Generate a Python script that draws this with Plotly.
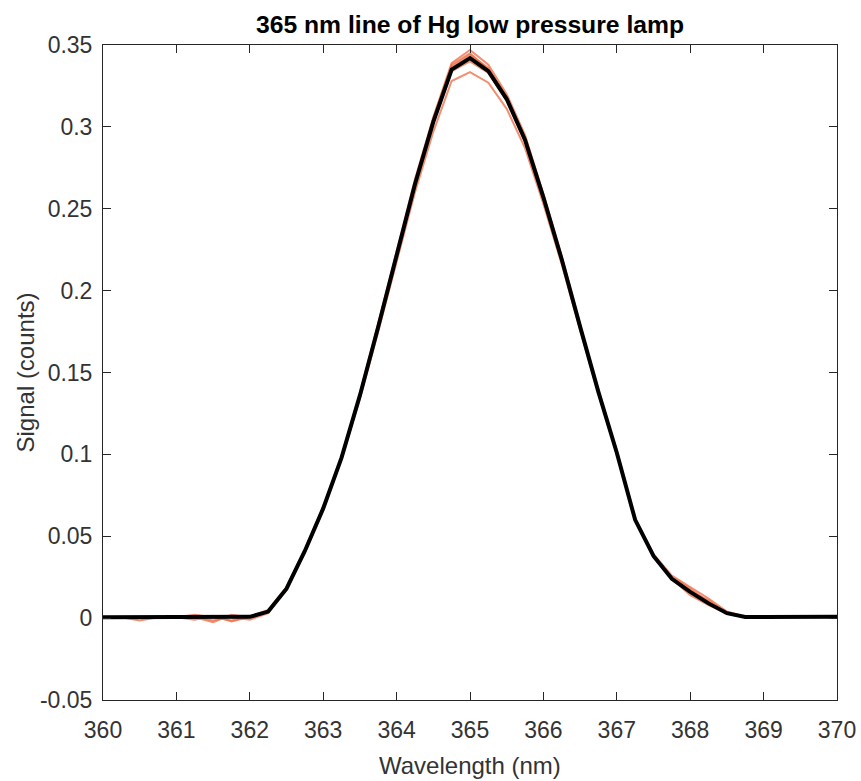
import plotly.graph_objects as go

wavelength = [360.0, 360.25, 360.5, 360.75, 361.0, 361.25, 361.5, 361.75, 362.0, 362.25,
              362.5, 362.75, 363.0, 363.25, 363.5, 363.75, 364.0, 364.25, 364.5, 364.75,
              365.0, 365.25, 365.5, 365.75, 366.0, 366.25, 366.5, 366.75, 367.0, 367.25,
              367.5, 367.75, 368.0, 368.25, 368.5, 368.75, 369.0, 369.25, 369.5, 369.75, 370.0]

mean_signal = [0.0005, 0.0005, 0.0005, 0.0005, 0.0005, 0.0005, 0.0005, 0.0005, 0.0008, 0.004,
               0.018, 0.041, 0.067, 0.098, 0.136, 0.178, 0.221, 0.265, 0.303, 0.335,
               0.342, 0.334, 0.317, 0.292, 0.257, 0.219, 0.178, 0.138, 0.101, 0.060,
               0.038, 0.024, 0.016, 0.009, 0.003, 0.0007, 0.0007, 0.0007, 0.0008, 0.0008, 0.0008]

scan_a = [0.0005, 0.0005, 0.0005, 0.0005, 0.0005, -0.001, 0.0015, -0.002, 0.0006, 0.004,
          0.018, 0.040, 0.066, 0.097, 0.134, 0.175, 0.217, 0.260, 0.297, 0.328,
          0.3335, 0.327, 0.311, 0.287, 0.253, 0.216, 0.176, 0.137, 0.100, 0.060,
          0.038, 0.024, 0.016, 0.009, 0.003, 0.0007, 0.0007, 0.0007, 0.0008, 0.0008, 0.0008]

scan_b = [0.0005, 0.0005, 0.0005, 0.0005, 0.0005, 0.001, -0.0015, 0.0012, 0.001, 0.005,
          0.019, 0.042, 0.068, 0.099, 0.137, 0.180, 0.224, 0.268, 0.306, 0.339,
          0.347, 0.338, 0.320, 0.295, 0.259, 0.221, 0.179, 0.139, 0.102, 0.061,
          0.039, 0.026, 0.019, 0.012, 0.004, 0.0007, 0.0007, 0.0007, 0.0008, 0.0008, 0.0008]

scan_c = [0.0005, 0.0005, 0.0005, 0.0005, 0.0005, 0.0005, -0.0025, 0.002, 0.0005, 0.004,
          0.017, 0.041, 0.067, 0.098, 0.136, 0.178, 0.221, 0.266, 0.305, 0.337,
          0.344, 0.336, 0.318, 0.293, 0.258, 0.220, 0.178, 0.138, 0.101, 0.060,
          0.038, 0.025, 0.018, 0.010, 0.003, 0.0007, 0.0007, 0.0007, 0.0008, 0.0008, 0.0008]

scan_d = [0.0005, 0.0005, 0.0005, 0.0005, 0.0005, 0.002, 0.0005, -0.0015, 0.001, 0.004,
          0.018, 0.041, 0.067, 0.098, 0.136, 0.178, 0.221, 0.264, 0.302, 0.334,
          0.340, 0.333, 0.316, 0.291, 0.256, 0.218, 0.178, 0.138, 0.101, 0.060,
          0.037, 0.024, 0.016, 0.011, 0.003, 0.0007, 0.0007, 0.0007, 0.0008, 0.0008, 0.0008]

scan_e = [0.0005, 0.0005, -0.0015, 0.0005, 0.0005, 0.0005, 0.001, 0.0005, -0.001, 0.003,
          0.018, 0.041, 0.067, 0.098, 0.136, 0.178, 0.222, 0.266, 0.305, 0.338,
          0.345, 0.335, 0.318, 0.292, 0.257, 0.219, 0.178, 0.138, 0.101, 0.060,
          0.038, 0.024, 0.014, 0.008, 0.003, 0.0007, 0.0007, 0.0007, 0.0008, 0.0008, 0.0008]

x_ticks = [360, 361, 362, 363, 364, 365, 366, 367, 368, 369, 370]
y_ticks = [-0.05, 0, 0.05, 0.1, 0.15, 0.2, 0.25, 0.3, 0.35]
y_tick_text = ["-0.05", "0", "0.05", "0.1", "0.15", "0.2", "0.25", "0.3", "0.35"]

fig = go.Figure()
for scan in [scan_a, scan_b, scan_c, scan_d, scan_e]:
    fig.add_trace(go.Scatter(x=wavelength, y=scan, mode="lines",
                             line=dict(color="rgba(238,105,65,0.75)", width=2),
                             showlegend=False, hoverinfo="skip"))
fig.add_trace(go.Scatter(x=wavelength, y=mean_signal, mode="lines",
                         line=dict(color="black", width=4), showlegend=False))

font_family = "Liberation Sans, Arial, Helvetica, sans-serif"
axis_common = dict(showline=True, linecolor="#262626", linewidth=1, mirror="ticks",
                   ticks="inside", ticklen=8, tickcolor="#262626", tickwidth=1,
                   showgrid=False, zeroline=False, automargin=False,
                   tickfont=dict(family=font_family, size=23, color="#333333"))

fig.update_layout(
    width=861, height=781,
    margin=dict(l=103, r=24, t=45, b=81, autoexpand=False),
    paper_bgcolor="white", plot_bgcolor="white",
    title=dict(text="<b>365 nm line of Hg low pressure lamp</b>",
               font=dict(family=font_family, size=24.7, color="black"),
               x=470 / 861, xanchor="center", xref="container",
               y=1 - 24 / 781, yanchor="middle", yref="container"),
    xaxis=dict(range=[360, 370], tickvals=x_ticks, ticklabelstandoff=9, **axis_common),
    yaxis=dict(range=[-0.05, 0.35], tickvals=y_ticks, ticktext=y_tick_text,
               ticklabelstandoff=5, **axis_common),
    annotations=[
        dict(text="Wavelength (nm)", x=0.5, xref="paper", y=-65 / 655, yref="paper",
             xanchor="center", yanchor="middle", showarrow=False,
             font=dict(family=font_family, size=24, color="#333333")),
        dict(text="Signal (counts)", x=-78 / 734, xref="paper", y=0.5, yref="paper",
             xanchor="center", yanchor="middle", showarrow=False, textangle=-90,
             font=dict(family=font_family, size=24, color="#333333")),
    ],
)

fig.write_html("out.html", config={"displayModeBar": False},
               post_script="document.body.style.margin='0';")
